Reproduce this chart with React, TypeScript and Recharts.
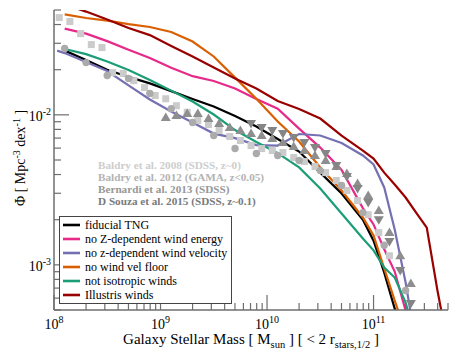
import React from "react";
import { ComposedChart, Line, Scatter, XAxis, YAxis, Legend } from "recharts";

// model curves, sampled at log10 M = 8.1, 8.3 ... 10.9, 11.0 ... 11.7
const modelMass = [
  1.26e8, 2.0e8, 3.16e8, 5.01e8, 7.94e8, 1.26e9, 2.0e9, 3.16e9, 5.01e9, 7.94e9,
  1.26e10, 2.0e10, 3.16e10, 5.01e10, 7.94e10, 1.0e11, 1.26e11, 1.58e11, 2.0e11,
  2.51e11, 3.16e11, 3.98e11, 5.0e11,
];
const fiducialPhi = [
  0.0268, 0.0232, 0.02, 0.0179, 0.0162, 0.0144, 0.01275, 0.01136, 0.00982, 0.00836,
  0.0069, 0.00569, 0.00412, 0.00299, 0.002, 0.00145, 0.000888, 0.000511, 0.00029,
];
const noZEnergyPhi = [
  0.0376, 0.0348, 0.031, 0.0272, 0.0239, 0.0206, 0.0181, 0.0168, 0.015, 0.01275,
  0.011, 0.0081, 0.00605, 0.00429, 0.00239, 0.00186, 0.00127, 0.000902, 0.000496, 0.00029,
];
const noZVelMass = [
  1.07e8, 1.26e8, 2.0e8, 3.16e8, 5.01e8, 7.94e8, 1.26e9, 2.0e9, 3.16e9, 5.01e9, 7.94e9,
  1.26e10, 2.0e10, 3.16e10, 5.01e10, 7.94e10, 1.0e11, 1.26e11, 1.58e11, 2.0e11, 2.51e11,
];
const noZVelPhi = [
  0.0268, 0.0258, 0.0225, 0.0196, 0.0157, 0.01265, 0.01052, 0.00889, 0.0075, 0.007, 0.00629,
  0.00624, 0.00745, 0.00728, 0.00649, 0.00536, 0.00467, 0.00328, 0.00172, 0.000762, 0.00029,
];
const noFloorPhi = [
  0.0467, 0.0442, 0.0425, 0.0403, 0.0385, 0.0357, 0.0308, 0.0245, 0.0177, 0.0128,
  0.00902, 0.00664, 0.00446, 0.00313, 0.00207, 0.00157, 0.000945, 0.000578, 0.000354,
];
const notIsoPhi = [
  0.0275, 0.0254, 0.0227, 0.0199, 0.0171, 0.0145, 0.01227, 0.01005, 0.00792, 0.00659,
  0.00556, 0.00446, 0.00323, 0.0022, 0.0015, 0.00125, 0.000959, 0.000823, 0.000561, 0.000313,
];
const illustrisPhi = [
  0.0544, 0.0488, 0.0432, 0.0379, 0.034, 0.0288, 0.0245, 0.0207, 0.0175, 0.015,
  0.01236, 0.01093, 0.00945, 0.00728, 0.00578, 0.00511, 0.00412, 0.00343, 0.00281,
  0.00223, 0.00177, 0.000674, 0.00029,
];

// observations
const baldry08Mass = [
  1.12e8, 1.41e8, 1.78e8, 2.24e8, 2.82e8, 3.55e8, 4.47e8, 5.62e8, 7.08e8, 8.91e8,
  1.12e9, 1.41e9, 1.78e9, 2.24e9, 2.82e9, 3.55e9, 4.47e9, 5.62e9, 7.08e9, 8.91e9,
  1.12e10, 1.41e10, 1.78e10, 2.24e10, 2.82e10, 3.55e10, 4.47e10, 5.62e10, 7.08e10, 8.91e10,
  1.12e11, 1.41e11,
];
const baldry08Phi = [
  0.0445, 0.0419, 0.0348, 0.0294, 0.0281, 0.0191, 0.0189, 0.0169, 0.0152, 0.01345,
  0.0128, 0.0115, 0.0104, 0.00916, 0.00862, 0.00786, 0.00717, 0.00674, 0.00624, 0.00596,
  0.00578, 0.00561, 0.00519, 0.00488, 0.00452, 0.00412, 0.00365, 0.00313, 0.00268, 0.00216,
  0.00164, 0.00115,
];
const baldry12Mass = [
  1.26e8, 2.0e8, 3.16e8, 5.01e8, 7.94e8, 1.26e9, 2.0e9, 3.16e9, 5.01e9, 7.94e9,
  1.26e10, 2.0e10, 3.16e10, 5.01e10, 7.94e10, 1.26e11, 2.0e11,
];
const baldry12Phi = [
  0.0277, 0.0223, 0.0183, 0.0175, 0.0139, 0.011, 0.00889, 0.00728, 0.00596, 0.00552,
  0.00536, 0.00496, 0.00425, 0.00338, 0.00223, 0.00135, 0.000674,
];
const bernardiMass = [
  1.12e9, 1.41e9, 1.78e9, 2.24e9, 2.82e9, 3.55e9, 4.47e9, 5.62e9, 7.08e9, 8.91e9,
  1.12e10, 1.41e10, 1.78e10, 2.24e10, 2.82e10, 3.55e10, 4.47e10, 5.62e10, 7.08e10, 8.91e10,
  1.12e11, 1.41e11, 1.78e11, 2.24e11,
];
const bernardiPhi = [
  0.00959, 0.00989, 0.0102, 0.0102, 0.00945, 0.00875, 0.00823, 0.00786, 0.0075, 0.00728,
  0.00695, 0.00654, 0.00615, 0.00578, 0.00536, 0.00496, 0.00452, 0.00406, 0.00348, 0.0029,
  0.0023, 0.00164, 0.00115, 0.00075,
];
const dsouzaMass = [
  7.08e9, 8.91e9, 1.12e10, 1.41e10, 1.78e10, 2.24e10, 2.82e10, 3.55e10, 4.47e10, 5.62e10,
  7.08e10, 8.91e10, 1.12e11, 1.41e11, 1.78e11, 2.24e11,
];
const dsouzaPhi = [
  0.00875, 0.00823, 0.00786, 0.0075, 0.00706, 0.00654, 0.00605, 0.00552, 0.00459, 0.00388,
  0.00323, 0.0026, 0.002, 0.00143, 0.000916, 0.000552,
];

const xTicks = [
  1e8, 2e8, 3e8, 4e8, 5e8, 6e8, 7e8, 8e8, 9e8,
  1e9, 2e9, 3e9, 4e9, 5e9, 6e9, 7e9, 8e9, 9e9,
  1e10, 2e10, 3e10, 4e10, 5e10, 6e10, 7e10, 8e10, 9e10,
  1e11, 2e11, 3e11, 4e11, 5e11,
];
const yTicks = [
  5e-4, 6e-4, 7e-4, 8e-4, 9e-4,
  1e-3, 2e-3, 3e-3, 4e-3, 5e-3, 6e-3, 7e-3, 8e-3, 9e-3,
  1e-2, 2e-2, 3e-2, 4e-2, 5e-2,
];

const FRAME = "#6e6e6e";
const FONT = "'Liberation Serif', 'Times New Roman', Times, serif";

const pts = (mass: number[], phi: number[]) =>
  phi.map((p, i) => ({ m: mass[i], phi: p }));

const models = [
  { name: "fiducial TNG", color: "#000000", data: pts(modelMass, fiducialPhi) },
  { name: "no Z-dependent wind energy", color: "#e7298a", data: pts(modelMass, noZEnergyPhi) },
  { name: "no z-dependent wind velocity", color: "#7570b3", data: pts(noZVelMass, noZVelPhi) },
  { name: "no wind vel floor", color: "#d95f02", data: pts(modelMass, noFloorPhi) },
  { name: "not isotropic winds", color: "#1b9e77", data: pts(modelMass, notIsoPhi) },
  { name: "Illustris winds", color: "#990000", data: pts(modelMass, illustrisPhi) },
];
const modelOrder = models.map((s) => s.name);

const isMajor = (v: number) => {
  const l = Math.log10(v);
  return Math.abs(l - Math.round(l)) < 1e-6;
};

const Pow = ({ v, x, y, anchor }: any) => (
  <text x={x} y={y} textAnchor={anchor} fontFamily={FONT} fontSize={14} fill="#000">
    <tspan>10</tspan>
    <tspan dy={-6} fontSize={10}>{Math.round(Math.log10(v))}</tspan>
  </text>
);

const BottomTick = ({ x, y, payload }: any) => {
  const major = isMajor(payload.value);
  return (
    <g>
      <line x1={x} x2={x} y1={y} y2={y - (major ? 15 : 7)} stroke={FRAME} strokeWidth={1.2} />
      {major && <Pow v={payload.value} x={x} y={y + 19} anchor="middle" />}
    </g>
  );
};
const TopTick = ({ x, y, payload }: any) => (
  <line x1={x} x2={x} y1={y} y2={y + (isMajor(payload.value) ? 15 : 7)} stroke={FRAME} strokeWidth={1.2} />
);
const LeftTick = ({ x, y, payload }: any) => {
  const major = isMajor(payload.value);
  return (
    <g>
      <line x1={x} x2={x + (major ? 15 : 7)} y1={y} y2={y} stroke={FRAME} strokeWidth={1.2} />
      {major && <Pow v={payload.value} x={x - 3} y={y + 6} anchor="end" />}
    </g>
  );
};
const RightTick = ({ x, y, payload }: any) => (
  <line x1={x} x2={x - (isMajor(payload.value) ? 15 : 7)} y1={y} y2={y} stroke={FRAME} strokeWidth={1.2} />
);

const Square = ({ cx, cy, fill }: any) => (
  <rect x={cx - 3.5} y={cy - 3.5} width={7} height={7} fill={fill} />
);
const Dot = ({ cx, cy, fill }: any) => <circle cx={cx} cy={cy} r={3.7} fill={fill} />;
const TriUp = ({ cx, cy, fill }: any) => (
  <path d={`M${cx},${cy - 5}L${cx + 5},${cy + 3.5}L${cx - 5},${cy + 3.5}Z`} fill={fill} />
);
const TriDown = ({ cx, cy, fill }: any) => (
  <path d={`M${cx - 5},${cy - 3.5}L${cx + 5},${cy - 3.5}L${cx},${cy + 5}Z`} fill={fill} />
);

const LegendBox = ({ payload }: any) => (
  <div
    style={{
      border: "1.3px solid #444",
      background: "#fff",
      padding: "1px 4px 1px 2px",
      fontFamily: FONT,
      fontSize: 12,
      lineHeight: "14px",
    }}
  >
    {(payload || [])
      .filter((p: any) => p.type === "line")
      .sort((a: any, b: any) => modelOrder.indexOf(a.value) - modelOrder.indexOf(b.value))
      .map((p: any) => (
        <div key={p.value} style={{ display: "flex", alignItems: "center", whiteSpace: "nowrap" }}>
          <svg width={23} height={10}>
            <line x1={1} x2={18} y1={5} y2={5} stroke={p.color} strokeWidth={2.6} />
          </svg>
          <span>{p.value}</span>
        </div>
      ))}
  </div>
);

const obsLabels = [
  { text: "Baldry et al. 2008 (SDSS, z~0)", color: "#cdcdcd" },
  { text: "Baldry et al. 2012 (GAMA, z<0.05)", color: "#b3b3b3" },
  { text: "Bernardi et al. 2013 (SDSS)", color: "#979797" },
  { text: "D Souza et al. 2015 (SDSS, z~0.1)", color: "#7a7a7a" },
];

export default function App() {
  return (
    <div style={{ position: "absolute", left: 0, top: 0, width: 458, height: 354, fontFamily: FONT }}>
      <ComposedChart width={458} height={354} margin={{ top: 10, right: 10, bottom: 10, left: 10 }}>
        <XAxis
          xAxisId={0}
          dataKey="m"
          type="number"
          scale="log"
          domain={[1e8, 5e11]}
          allowDataOverflow
          ticks={xTicks}
          interval={0}
          height={34}
          tickSize={0}
          tickMargin={0}
          tickLine={false}
          axisLine={{ stroke: FRAME, strokeWidth: 1.5 }}
          tick={(p: any) => <BottomTick {...p} />}
        />
        <XAxis
          xAxisId="top"
          orientation="top"
          type="number"
          scale="log"
          domain={[1e8, 5e11]}
          allowDataOverflow
          ticks={xTicks}
          interval={0}
          height={0}
          tickSize={0}
          tickMargin={0}
          tickLine={false}
          axisLine={{ stroke: FRAME, strokeWidth: 1.5 }}
          tick={(p: any) => <TopTick {...p} />}
        />
        <YAxis
          yAxisId={0}
          dataKey="phi"
          type="number"
          scale="log"
          domain={[5e-4, 5e-2]}
          allowDataOverflow
          ticks={yTicks}
          interval={0}
          width={44}
          tickSize={0}
          tickMargin={0}
          tickLine={false}
          axisLine={{ stroke: FRAME, strokeWidth: 1.5 }}
          tick={(p: any) => <LeftTick {...p} />}
        />
        <YAxis
          yAxisId="right"
          orientation="right"
          type="number"
          scale="log"
          domain={[5e-4, 5e-2]}
          allowDataOverflow
          ticks={yTicks}
          interval={0}
          width={0}
          tickSize={0}
          tickMargin={0}
          tickLine={false}
          axisLine={{ stroke: FRAME, strokeWidth: 1.5 }}
          tick={(p: any) => <RightTick {...p} />}
        />

        <Scatter data={pts(baldry08Mass, baldry08Phi)} dataKey="phi" fill="#cbcbcb" shape={Square} legendType="none" isAnimationActive={false} />
        <Scatter data={pts(baldry12Mass, baldry12Phi)} dataKey="phi" fill="#ababab" shape={Dot} legendType="none" isAnimationActive={false} />
        <Scatter data={pts(bernardiMass, bernardiPhi)} dataKey="phi" fill="#8e8e8e" shape={TriUp} legendType="none" isAnimationActive={false} />
        <Scatter data={pts(dsouzaMass, dsouzaPhi)} dataKey="phi" fill="#858585" shape={TriDown} legendType="none" isAnimationActive={false} />

        {models.map((s) => (
          <Line
            key={s.name}
            name={s.name}
            data={s.data}
            dataKey="phi"
            type="linear"
            stroke={s.color}
            strokeWidth={2.2}
            dot={false}
            legendType="line"
            isAnimationActive={false}
          />
        ))}

        <Legend
          layout="vertical"
          align="center"
          verticalAlign="middle"
          content={<LegendBox />}
          wrapperStyle={{ left: 59, top: 216, width: "auto" }}
        />
      </ComposedChart>

      <svg
        width={458}
        height={354}
        style={{ position: "absolute", left: 0, top: 0, pointerEvents: "none" }}
        fontFamily={FONT}
      >
        {obsLabels.map((l, i) => (
          <text key={l.text} x={98} y={169 + i * 12} fontSize={11.2} fontWeight="bold" fill={l.color}>
            {l.text}
          </text>
        ))}
        <text x={251} y={344} textAnchor="middle" fontSize={15} fill="#000">
          Galaxy Stellar Mass [ M
          <tspan dy={4} fontSize={10.5}>sun</tspan>
          <tspan dy={-4}> ] [ &lt; 2 r</tspan>
          <tspan dy={4} fontSize={10.5}>stars,1/2</tspan>
          <tspan dy={-4}> ]</tspan>
        </text>
        <text
          transform="translate(25,158) rotate(-90)"
          textAnchor="middle"
          fontSize={14}
          fill="#000"
        >
          Φ [ Mpc
          <tspan dy={-5} fontSize={10}>-3</tspan>
          <tspan dy={5}> dex</tspan>
          <tspan dy={-5} fontSize={10}>-1</tspan>
          <tspan dy={5}> ]</tspan>
        </text>
      </svg>
    </div>
  );
}
